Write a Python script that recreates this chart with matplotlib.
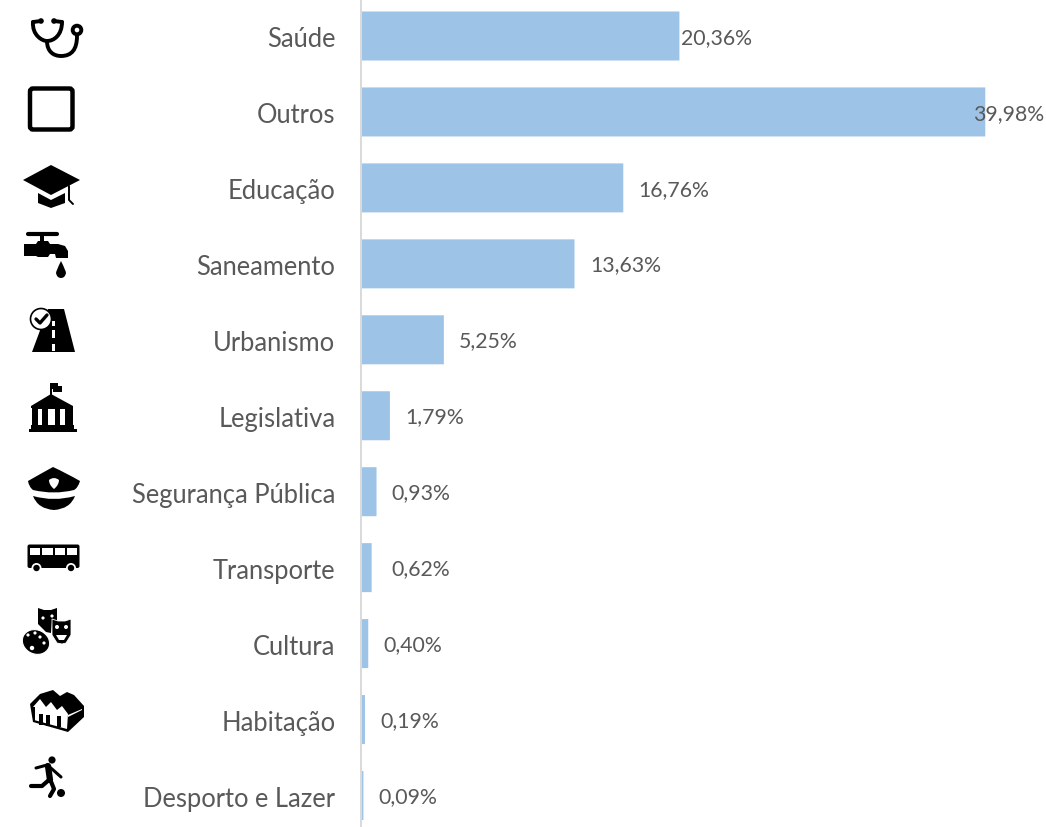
import matplotlib
matplotlib.use("Agg")
import matplotlib.pyplot as plt
from matplotlib.patches import Circle, Ellipse, FancyBboxPatch, PathPatch, Polygon, Rectangle
from matplotlib.path import Path

categories = ["Saúde", "Outros", "Educação", "Saneamento", "Urbanismo", "Legislativa",
              "Segurança Pública", "Transporte", "Cultura", "Habitação", "Desporto e Lazer"]
values = [20.36, 39.98, 16.76, 13.63, 5.25, 1.79, 0.93, 0.62, 0.40, 0.19, 0.09]

W, H = 1046, 828
AXIS_X = 362
PX_PER_PCT = 15.59
ROW_0 = 37
ROW_STEP = 75.95
TEXT = "#595959"
INK = "black"

plt.rcParams["font.family"] = ["Lato", "DejaVu Sans"]

fig = plt.figure(figsize=(W / 100, H / 100), dpi=100)
ax = fig.add_axes([AXIS_X / W, 0, 1 - AXIS_X / W, 1])
ax.barh(range(len(values)), values, height=49 / ROW_STEP, color="#9dc3e6", zorder=3, snap=False)
for side in ["top", "right", "bottom"]:
    ax.spines[side].set_visible(False)
ax.spines["left"].set_color("#d9d9d9")
ax.spines["left"].set_linewidth(1.4)
# set_position resets the ticks, so it has to come before set_yticks
ax.spines["left"].set_position(("outward", 0.7))
ax.set_xlim(0, (W - AXIS_X) / PX_PER_PCT)
ax.set_ylim((H - ROW_0) / ROW_STEP, -ROW_0 / ROW_STEP)
ax.set_xticks([])
ax.set_yticks(range(len(categories)), categories, fontsize=18.4, color=TEXT)
ax.tick_params(axis="y", length=0, pad=18.5)

# most labels sit 16px past the bar, a few were moved by hand in the original
label_shift = {"Saúde": 2, "Outros": -12, "Transporte": 20}
for i, (cat, val) in enumerate(zip(categories, values)):
    ax.annotate(f"{val:.2f}%".replace(".", ","), (val, i), xytext=((label_shift.get(cat, 16) - 0.7) * 0.72, -0.5),
                textcoords="offset points", va="center", ha="left", fontsize=15.3, color=TEXT)

# icon column, drawn in pixel coordinates
ic = fig.add_axes([0, 0, 1, 1], zorder=3)
ic.set_xlim(0, W)
ic.set_ylim(H, 0)
ic.axis("off")


def poly(pts, color=INK, **kw):
    ic.add_patch(Polygon(pts, closed=True, fc=color, ec=kw.get("ec", "none"), lw=kw.get("lw", 0)))


def line(pts, lw=2.2, color=INK):
    xs, ys = zip(*pts)
    ic.plot(xs, ys, color=color, lw=lw, solid_capstyle="round", solid_joinstyle="round")


def dot(x, y, r, color=INK, **kw):
    ic.add_patch(Circle((x, y), r, fc=color, ec=kw.get("ec", "none"), lw=kw.get("lw", 0)))


def rect(x0, y0, x1, y1, color=INK):
    ic.add_patch(Rectangle((x0, y0), x1 - x0, y1 - y0, fc=color, ec="none"))


def curve(verts, lw=2.2):
    codes = [Path.MOVETO] + [Path.CURVE4] * (len(verts) - 1)
    ic.add_patch(PathPatch(Path(verts, codes), fc="none", ec=INK, lw=lw, capstyle="round"))


def filled_curve(verts, color=INK):
    codes = [Path.MOVETO] + [Path.CURVE3] * (len(verts) - 1)
    ic.add_patch(PathPatch(Path(verts, codes), fc=color, ec="none"))


# stethoscope
curve([(33, 23), (32, 36), (42, 42), (47, 42), (54, 42), (62, 36), (62, 23)], lw=2.8)
line([(33, 23), (41, 22)], lw=2.8)
line([(54, 22), (62, 23)], lw=2.8)
dot(41, 22, 2.8)
dot(54, 22, 2.8)
curve([(47, 42), (47, 53), (54, 57), (61, 57), (72, 57), (77, 50), (77, 37)], lw=2.8)
ic.add_patch(Circle((77, 31), 4.3, fc="white", ec=INK, lw=2.8))

# outros
ic.add_patch(FancyBboxPatch((30, 89.5), 42.5, 41, boxstyle="round,pad=0,rounding_size=3", fc="none", ec=INK, lw=3.2))

# graduation cap
poly([(23, 181), (51, 166), (80, 181), (51, 196)])
poly([(38, 194), (51, 201), (65, 194), (65, 204), (51, 209), (38, 204)])
line([(69, 187), (69, 201), (73, 205)], lw=1.4)

# tap
line([(28, 235), (57, 235)], lw=3)
rect(40, 235, 44, 245)
poly([(24, 245), (36, 245), (38, 242), (48, 242), (50, 245), (58, 245), (65, 247), (68, 252),
      (68, 259), (56, 259), (55, 255), (50, 255), (48, 258), (38, 258), (36, 257), (24, 257)])
filled_curve([(61, 262), (56, 272), (56, 274), (57, 279), (61, 279), (65, 279), (66, 274), (66, 272), (61, 262)])

# road with check badge
poly([(48, 310), (64, 310), (75, 353), (32, 353)])
for y0, y1 in [(331, 339), (345, 352)]:
    rect(52, y0, 55, y1, "white")
rect(52, 322, 55, 327, "white")
dot(41, 320, 10.5, "white", ec=INK, lw=1.2)
line([(36, 320), (40, 324), (47, 316)], lw=2.4)

# legislative building
rect(49.5, 384, 51.5, 398)
poly([(50, 384), (58, 384), (58, 387), (62, 387), (62, 393), (53, 393), (53, 390), (50, 390)])
poly([(31, 407), (51, 395), (73, 407), (73, 409), (31, 409)])
rect(32, 409, 73, 426)
for x0, x1 in [(38, 41.5), (48, 55), (60, 65)]:
    rect(x0, 410, x1, 426, "white")
rect(31, 426, 74, 430)
rect(28.5, 429.5, 76.5, 433)

# police cap
filled_curve([(28, 482), (42, 474), (53, 468), (66, 474), (80, 482), (78, 489), (74, 491), (54, 496), (33, 491), (29, 488), (28, 482)])
filled_curve([(49, 481), (54, 477), (59, 481), (59, 486), (54, 490), (49, 486), (49, 481)], "white")
filled_curve([(33, 497), (54, 503), (75, 497), (70, 510), (54, 511), (38, 510), (33, 497)])

# bus
ic.add_patch(FancyBboxPatch((27.5, 545.5), 52, 23.5, boxstyle="round,pad=0,rounding_size=2", fc=INK, ec="none"))
for x0, x1 in [(30, 40), (42, 53), (55, 65), (67, 77)]:
    rect(x0, 548.5, x1, 556, "white")
for x in [36.5, 71]:
    dot(x, 569, 5, "white")
    dot(x, 569, 3.2)

# theatre masks and palette
poly([(38, 609), (44, 611), (51, 611), (57, 609), (57, 623), (52, 623), (51, 634), (46, 633), (38, 625)])
dot(43, 619, 1.6, "white")
dot(52, 617, 1.6, "white")
poly([(52, 620), (58, 622), (65, 622), (71, 620), (71, 636), (66, 644), (62, 645), (57, 644), (52, 636)], ec="white", lw=0.6)
dot(57, 628, 2, "white")
dot(66, 628, 2, "white")
poly([(56, 636), (67, 636), (64, 641), (59, 641)], "white")
ic.add_patch(Ellipse((36, 643), 28, 24, angle=25, fc=INK, ec="white", lw=0.8))
for x, y, r in [(28, 636, 1.6), (35, 634, 1.6), (40, 638, 1.6), (44, 644, 1.6), (32, 649, 2.2)]:
    dot(x, y, r, "white")

# factory-like houses
poly([(30, 705), (40, 695), (53, 691), (60, 697), (67, 693), (74, 696), (84, 707), (84, 718), (68, 733), (33, 723)])
poly([(33, 708), (40, 700), (46, 708), (51, 703), (57, 711), (62, 707), (68, 715), (67, 730), (34, 721)], "white")
poly([(68, 716), (82, 710), (82, 711), (68, 718)], "white")
for x0, y0 in [(39, 715), (46, 716), (57, 717)]:
    rect(x0, y0, x0 + 4, y0 + 11)
rect(33, 708, 34.5, 722)

# football player
dot(52, 761, 3.6)
line([(36, 769), (47, 766), (52, 770), (61, 778)], lw=2.2)
line([(48, 767), (50, 781)], lw=4.5)
line([(50, 780), (42, 787), (31, 787)], lw=3)
line([(50, 780), (54, 790), (50, 797)], lw=3)
dot(61, 794, 4)

fig.savefig("out.png", dpi=100)
